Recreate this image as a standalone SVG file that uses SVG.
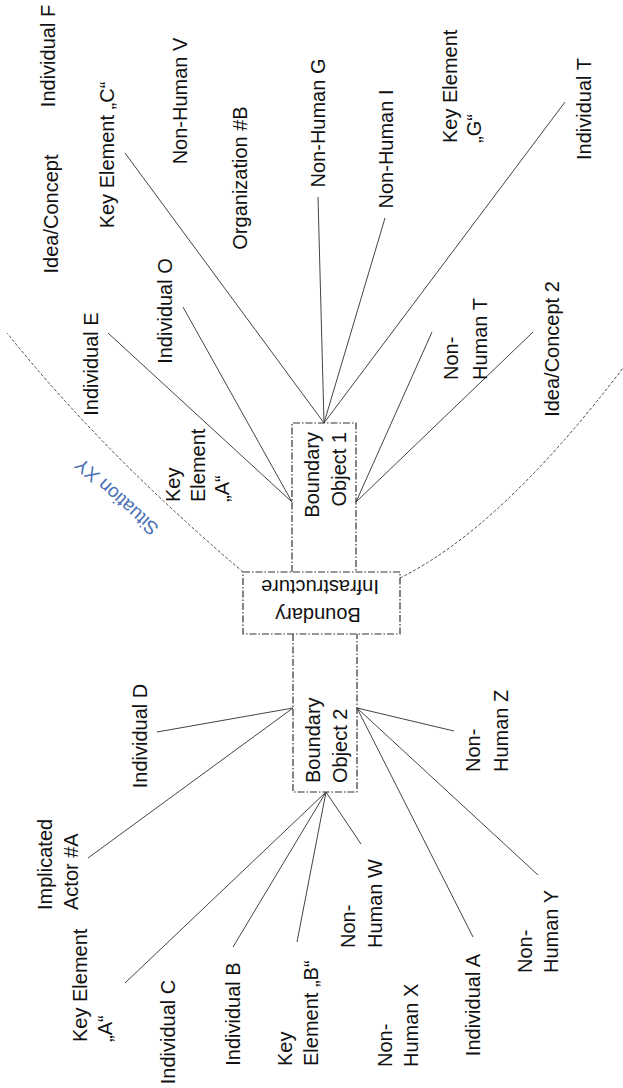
<svg xmlns="http://www.w3.org/2000/svg" width="623" height="1088" viewBox="0 0 623 1088">
<style>
.lbl{font-family:"Liberation Sans",Arial,sans-serif;font-size:20px;fill:#111}
.box{fill:none;stroke:#333;stroke-width:1.2;stroke-dasharray:7 2 1.5 2}
.con line{stroke:#444;stroke-width:1}
.arc{fill:none;stroke:#444;stroke-width:1;stroke-dasharray:3 2}
.sit{font-family:"Liberation Sans",Arial,sans-serif;font-size:19px;fill:#4a6fb5}
</style>
<rect width="623" height="1088" fill="#fff"/>
<g id="situation-xy">
<path class="arc" d="M243 572 Q103 453 7 333"/>
<path class="arc" d="M400 578 Q501 528 623 368"/>
<text class="sit" transform="translate(121,492) rotate(-138)" text-anchor="middle">Situation XY</text>
</g>
<g id="connectors" class="con">
<line x1="125" y1="153" x2="324" y2="423"/>
<line x1="318" y1="197" x2="324" y2="423"/>
<line x1="385" y1="218" x2="324" y2="423"/>
<line x1="565" y1="102" x2="324" y2="423"/>
<line x1="108" y1="333" x2="292" y2="502"/>
<line x1="183" y1="307" x2="292" y2="502"/>
<line x1="432" y1="332" x2="356" y2="502"/>
<line x1="533" y1="332" x2="356" y2="502"/>
<line x1="157" y1="732" x2="293" y2="708"/>
<line x1="88" y1="858" x2="293" y2="708"/>
<line x1="454" y1="731" x2="357" y2="708"/>
<line x1="473" y1="937" x2="357" y2="708"/>
<line x1="538" y1="875" x2="357" y2="708"/>
<line x1="125" y1="983" x2="326" y2="792"/>
<line x1="233" y1="947" x2="326" y2="792"/>
<line x1="297" y1="942" x2="326" y2="792"/>
<line x1="361" y1="844" x2="326" y2="792"/>
</g>
<g id="boundary-infrastructure">
<rect class="box" x="243" y="572" width="157" height="62"/>
<text class="lbl" transform="translate(318,608) rotate(180)" text-anchor="middle" fill="#262611">Boundary</text>
<text class="lbl" transform="translate(320,580) rotate(180)" text-anchor="middle" fill="#262611">Infrastructure</text>
</g>
<g id="boundary-object-1">
<path class="box" d="M292 572 V423 H356 V572"/>
<text class="lbl" transform="translate(319,432) rotate(-90)" text-anchor="end"><tspan x="0" y="0">Boundary</tspan><tspan x="0" y="27">Object 1</tspan></text>
</g>
<g id="boundary-object-2">
<path class="box" d="M293 634 V792 H357 V634"/>
<text class="lbl" transform="translate(320,783) rotate(-90)"><tspan x="0" y="0">Boundary</tspan><tspan x="0" y="27">Object 2</tspan></text>
</g>
<g id="individual-f"><text class="lbl" transform="translate(55,56) rotate(-90)" text-anchor="middle">Individual F</text></g>
<g id="idea-concept"><text class="lbl" transform="translate(58,214) rotate(-90)" text-anchor="middle">Idea/Concept</text></g>
<g id="key-element-c"><text class="lbl" transform="translate(114,155) rotate(-90)" text-anchor="middle">Key Element „C“</text></g>
<g id="non-human-v"><text class="lbl" transform="translate(187,101) rotate(-90)" text-anchor="middle">Non-Human V</text></g>
<g id="organization-b"><text class="lbl" transform="translate(247,178) rotate(-90)" text-anchor="middle">Organization #B</text></g>
<g id="individual-o"><text class="lbl" transform="translate(172,311) rotate(-90)" text-anchor="middle">Individual O</text></g>
<g id="non-human-g"><text class="lbl" transform="translate(325,123) rotate(-90)" text-anchor="middle">Non-Human G</text></g>
<g id="non-human-i"><text class="lbl" transform="translate(393,149) rotate(-90)" text-anchor="middle">Non-Human I</text></g>
<g id="key-element-g"><text class="lbl" transform="translate(457,143) rotate(-90)"><tspan x="0" y="0">Key Element</tspan><tspan x="0" y="24">„G“</tspan></text></g>
<g id="individual-t"><text class="lbl" transform="translate(591,109) rotate(-90)" text-anchor="middle">Individual T</text></g>
<g id="individual-e"><text class="lbl" transform="translate(98,364) rotate(-90)" text-anchor="middle">Individual E</text></g>
<g id="key-element-a-upper"><text class="lbl" transform="translate(180,502) rotate(-90)"><tspan x="0" y="0">Key</tspan><tspan x="0" y="25">Element</tspan><tspan x="0" y="49">„A“</tspan></text></g>
<g id="non-human-t"><text class="lbl" transform="translate(458,380) rotate(-90)"><tspan x="0" y="0">Non-</tspan><tspan x="0" y="29">Human T</tspan></text></g>
<g id="idea-concept-2"><text class="lbl" transform="translate(559,349) rotate(-90)" text-anchor="middle">Idea/Concept 2</text></g>
<g id="individual-d"><text class="lbl" transform="translate(147,736) rotate(-90)" text-anchor="middle">Individual D</text></g>
<g id="implicated-actor-a"><text class="lbl" transform="translate(52,910) rotate(-90)"><tspan x="0" y="0">Implicated</tspan><tspan x="0" y="26">Actor #A</tspan></text></g>
<g id="key-element-a-lower"><text class="lbl" transform="translate(87,1042) rotate(-90)"><tspan x="0" y="0">Key Element</tspan><tspan x="0" y="25">„A“</tspan></text></g>
<g id="individual-c"><text class="lbl" transform="translate(175,1032) rotate(-90)" text-anchor="middle">Individual C</text></g>
<g id="individual-b"><text class="lbl" transform="translate(240,1014) rotate(-90)" text-anchor="middle">Individual B</text></g>
<g id="key-element-b"><text class="lbl" transform="translate(292,1066) rotate(-90)"><tspan x="0" y="0">Key</tspan><tspan x="0" y="26">Element „B“</tspan></text></g>
<g id="non-human-w"><text class="lbl" transform="translate(355,948) rotate(-90)"><tspan x="0" y="0">Non-</tspan><tspan x="0" y="27">Human W</tspan></text></g>
<g id="non-human-x"><text class="lbl" transform="translate(392,1067) rotate(-90)"><tspan x="0" y="0">Non-</tspan><tspan x="0" y="26">Human X</tspan></text></g>
<g id="individual-a"><text class="lbl" transform="translate(480,1005) rotate(-90)" text-anchor="middle">Individual A</text></g>
<g id="non-human-y"><text class="lbl" transform="translate(532,973) rotate(-90)"><tspan x="0" y="0">Non-</tspan><tspan x="0" y="26">Human Y</tspan></text></g>
<g id="non-human-z"><text class="lbl" transform="translate(480,772) rotate(-90)"><tspan x="0" y="0">Non-</tspan><tspan x="0" y="28">Human Z</tspan></text></g>
</svg>
